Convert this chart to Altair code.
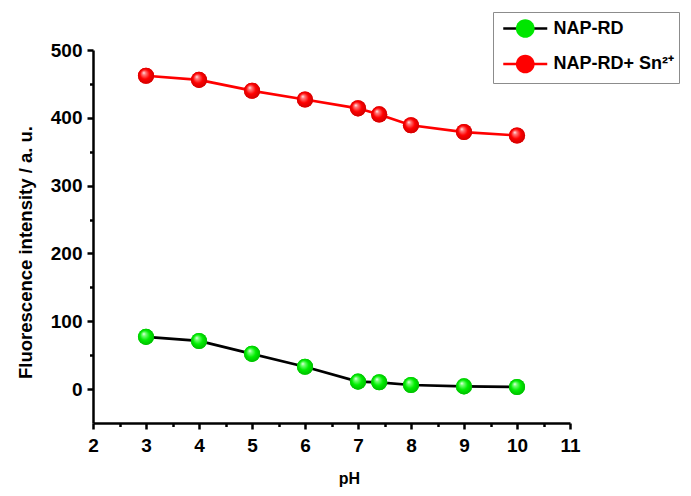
import altair as alt
import pandas as pd

# ---- data ----
ph = [3, 4, 5, 6, 7, 7.4, 8, 9, 10]
nap_rd = [77, 71, 52, 33, 11, 10, 6, 4, 3]
nap_rd_sn = [462, 456, 440, 427, 414, 405, 389, 379, 374]
series_names = ["NAP-RD", "NAP-RD+ Sn²⁺"]
x_ticks = [2, 2.5, 3, 3.5, 4, 4.5, 5, 5.5, 6, 6.5, 7, 7.5, 8, 8.5, 9, 9.5, 10, 10.5, 11]
y_ticks = [0, 50, 100, 150, 200, 250, 300, 350, 400, 450, 500]

rows = []
for name, vals in zip(series_names, [nap_rd, nap_rd_sn]):
    for p, v in zip(ph, vals):
        rows.append({"pH": p, "I": v, "series": name, "series_f": name})
df = pd.DataFrame(rows)

FONT = "Liberation Sans"

xaxis = alt.Axis(
    values=x_ticks,
    labelExpr="datum.value % 1 === 0 ? format(datum.value, 'd') : ''",
    tickSize={"condition": {"test": "datum.value % 1 === 0", "value": 6}, "value": 3.5},
    tickWidth=2.5, tickColor="black", domainWidth=2.5, domainColor="black",
    labelFont=FONT, labelFontSize=19, labelFontWeight="bold", labelColor="black",
    labelPadding=7, labelOverlap=False, labelFlush=False, grid=False,
    titleFont=FONT, titleFontSize=16, titleFontWeight="bold", titleColor="black",
    titlePadding=15, titleX=256,
)
yaxis = alt.Axis(
    values=y_ticks,
    labelExpr="datum.value % 100 === 0 ? format(datum.value, 'd') : ''",
    tickSize={"condition": {"test": "datum.value % 100 === 0", "value": 6}, "value": 3.5},
    tickWidth=2.5, tickColor="black", domainWidth=2.5, domainColor="black",
    labelFont=FONT, labelFontSize=19, labelFontWeight="bold", labelColor="black",
    labelPadding=5, labelOverlap=False, labelFlush=False, grid=False,
    titleFont=FONT, titleFontSize=18.5, titleFontWeight="bold", titleColor="black",
    titlePadding=15, titleY=202,
)

x = alt.X("pH:Q", scale=alt.Scale(domain=[2, 11], nice=False, zero=False), axis=xaxis, title="pH")
y = alt.Y("I:Q", scale=alt.Scale(domain=[-50, 500], nice=False, zero=False), axis=yaxis,
          title="Fluorescence intensity / a. u.")

LEG_X, LEG_Y = 400, -38
ROW_PAD = 6.5
LEG_PAD = 4
SYM_SIZE = 484          # unit = 11 px for the custom paths below
SYM_OFFSET = 15.75
LABEL_OFFSET = 15.75
# 44 px line; the two zero-length segments only give it the same height as the circle
LINE_PATH = "M-2,0H2M0,-0.85L0,-0.85M0,0.85L0,0.85"
CIRCLE_PATH = ("M0.85,0C0.85,0.469,0.469,0.85,0,0.85C-0.469,0.85,-0.85,0.469,-0.85,0"
               "C-0.85,-0.469,-0.469,-0.85,0,-0.85C0.469,-0.85,0.85,-0.469,0.85,0Z")

line = alt.Chart(df).mark_line(strokeWidth=2.7).encode(
    x=x, y=y,
    stroke=alt.Stroke("series:N", scale=alt.Scale(range=["#000000", "#ff0000"]),
                      legend=alt.Legend(
                          orient="none", legendX=LEG_X, legendY=LEG_Y, title=None,
                          symbolType=LINE_PATH, symbolSize=SYM_SIZE, symbolStrokeWidth=2.5,
                          symbolOffset=SYM_OFFSET,
                          labelFont=FONT, labelFontSize=18, labelFontWeight="bold", labelColor="black",
                          labelOffset=LABEL_OFFSET, labelLimit=0, padding=LEG_PAD, rowPadding=ROW_PAD,
                          strokeColor="#8c8c8c", fillColor="white", zindex=1)),
)

base_pts = alt.Chart(df).mark_circle(size=260, opacity=1).encode(
    x=x, y=y,
    fill=alt.Fill("series_f:N", scale=alt.Scale(range=["#00e600", "#ff0000"]),
                  legend=alt.Legend(
                      orient="none", legendX=LEG_X, legendY=LEG_Y, title=None,
                      symbolType=CIRCLE_PATH, symbolSize=SYM_SIZE, symbolStrokeWidth=2.5,
                      symbolStrokeColor="transparent", symbolOpacity=1,
                      symbolOffset=SYM_OFFSET, labelExpr="''",
                      labelFont=FONT, labelFontSize=18, labelFontWeight="bold",
                      labelOffset=LABEL_OFFSET, labelLimit=0, padding=LEG_PAD, rowPadding=ROW_PAD,
                      zindex=2)),
)


def grad(c_light, c_mid, c_dark):
    return {
        "gradient": "radial", "x1": 0.35, "y1": 0.3, "r1": 0,
        "x2": 0.5, "y2": 0.5, "r2": 0.55,
        "stops": [
            {"offset": 0, "color": "#ffffff"},
            {"offset": 0.18, "color": c_light},
            {"offset": 0.55, "color": c_mid},
            {"offset": 1, "color": c_dark},
        ],
    }


green_pts = alt.Chart(df).transform_filter(alt.datum.series == series_names[0]).mark_circle(
    size=260, opacity=1, fill=grad("#7dff7d", "#00ee00", "#00b400")
).encode(x=x, y=y)
red_pts = alt.Chart(df).transform_filter(alt.datum.series == series_names[1]).mark_circle(
    size=260, opacity=1, fill=grad("#ff8080", "#ff0000", "#c80000")
).encode(x=x, y=y)

chart = alt.layer(line, base_pts, green_pts, red_pts).properties(
    width=477, height=373,
    autosize=alt.AutoSizeParams(type="none"),
    padding={"left": 85, "top": 42, "right": 113, "bottom": 65},
    background="white",
).configure_view(stroke=None)

chart.save("out.html", embed_options={"renderer": "svg", "actions": False})
